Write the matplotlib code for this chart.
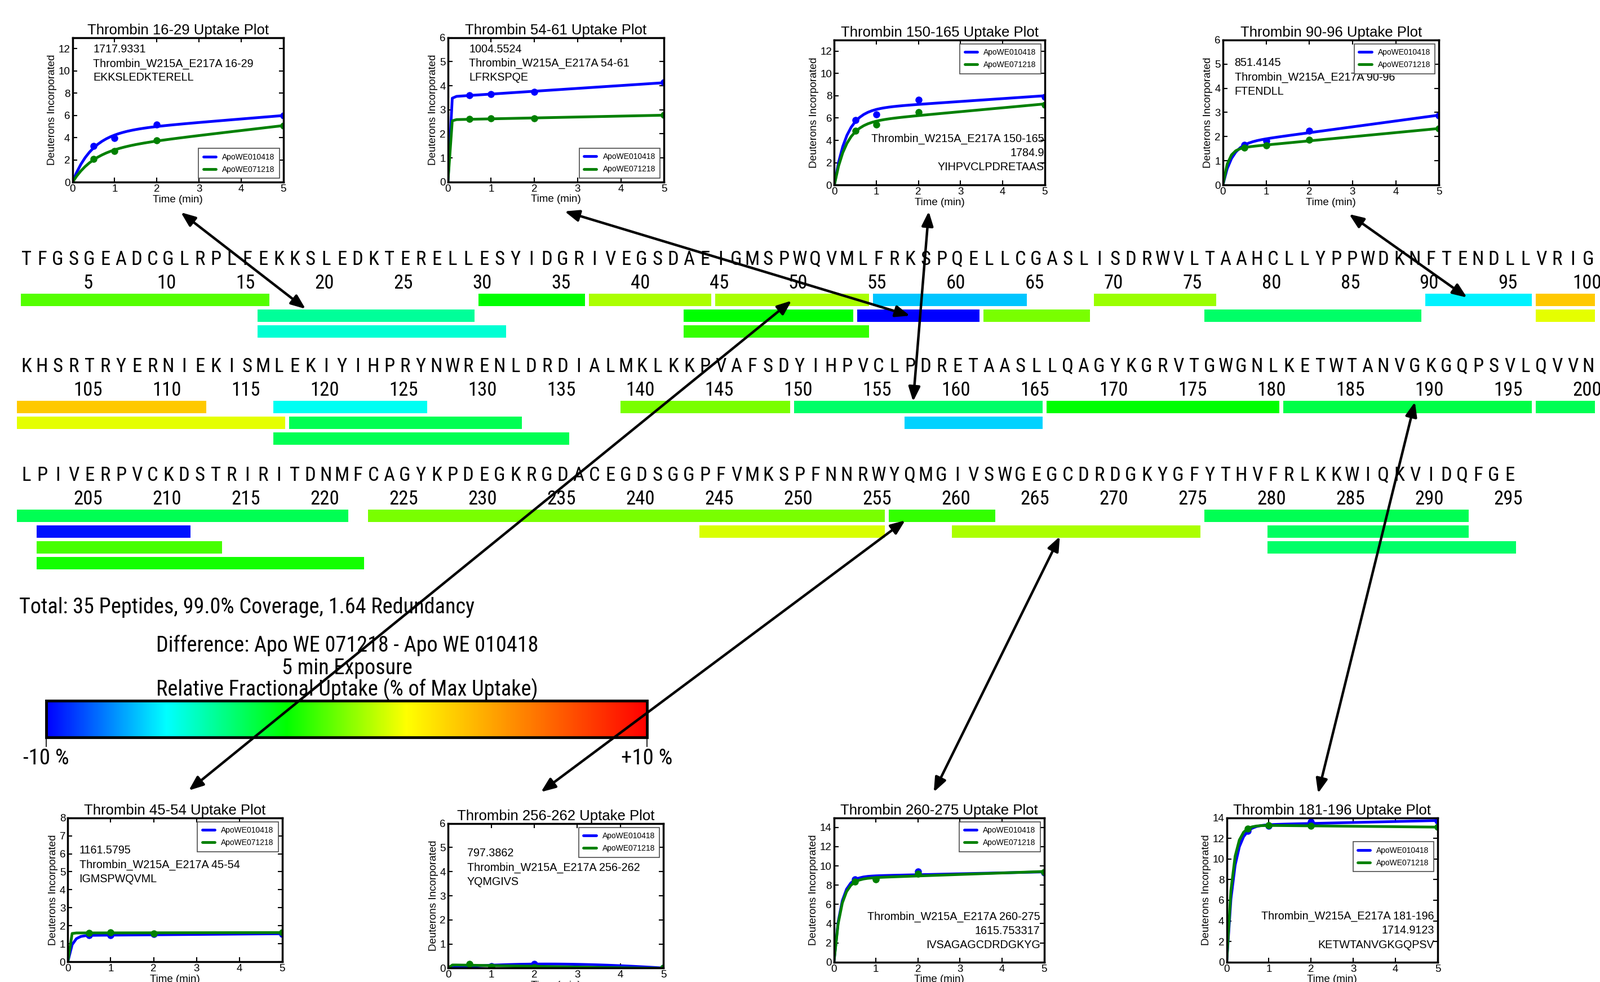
import numpy as np
import matplotlib
matplotlib.use("Agg")
import matplotlib.pyplot as plt
from matplotlib import font_manager
from matplotlib.font_manager import FontProperties
from matplotlib.colors import LinearSegmentedColormap, Normalize
from matplotlib.cm import ScalarMappable
from matplotlib.patches import ConnectionPatch

# ------------------------------------------------------------------ data
seq_row1 = "TFGSGEADCGLRPLFEKKSLEDKTERELLESYIDGRIVEGSDAEIGMSPWQVMLFRKSPQELLCGASLISDRWVLTAAHCLLYPPWDKNFTENDLLVRIG"
seq_row2 = "KHSRTRYERNIEKISMLEKIYIHPRYNWRENLDRDIALMKLKKPVAFSDYIHPVCLPDRETAASLLQAGYKGRVTGWGNLKETWTANVGKGQPSVLQVVN"
seq_row3 = "LPIVERPVCKDSTRIRITDNMFCAGYKPDEGKRGDACEGDSGGPFVMKSPFNNRWYQMGIVSWGEGCDRDGKYGFYTHVFRLKKWIQKVIDQFGE"
row_starts = [1, 101, 201]
row_number_labels = [list(range(5, 101, 5)), list(range(105, 201, 5)), list(range(205, 296, 5))]

pep_start = [1, 30, 37, 45, 55, 69, 90, 97, 16, 43, 54, 62, 76, 97, 16, 43,
             117, 139, 150, 166, 181, 197, 118, 157, 117,
             223, 256, 276, 202, 244, 260, 280, 202, 280, 202]
pep_end = [16, 36, 44, 54, 64, 76, 96, 112, 29, 53, 61, 68, 89, 117, 31, 54,
           126, 149, 165, 180, 196, 221, 132, 165, 135,
           255, 262, 292, 211, 255, 275, 292, 213, 295, 222]
pep_lane = [0, 0, 0, 0, 0, 0, 0, 0, 1, 1, 1, 1, 1, 1, 2, 2,
            0, 0, 0, 0, 0, 0, 1, 1, 2,
            0, 0, 0, 1, 1, 1, 1, 2, 2, 3]
pep_diff = [-0.7, -2.0, 0.7, 0.65, -6.9, 0.4, -6.2, 3.7, -4.4, -2.0, -10.0, -0.1, -3.6, 1.6, -5.3, -1.2,
            -5.8, -0.1, -3.6, -2.0, -3.1, -3.3, -3.3, -6.7, -3.3,
            -0.1, -1.2, -3.3, -9.7, 1.4, 0.7, -3.5, -0.9, -3.6, -1.7]

total_text = "Total: 35 Peptides, 99.0% Coverage, 1.64 Redundancy"
legend_title_lines = ["Difference: Apo WE 071218 - Apo WE 010418", "5 min Exposure",
                      "Relative Fractional Uptake (% of Max Uptake)"]
cbar_ticks = [-10, 10]
cbar_ticklabels = ["-10 %", "+10 %"]

times = [0.5, 1, 2, 5]
series_labels = ["ApoWE010418", "ApoWE071218"]
plot_titles = ["Thrombin 16-29 Uptake Plot", "Thrombin 54-61 Uptake Plot", "Thrombin 150-165 Uptake Plot",
               "Thrombin 90-96 Uptake Plot", "Thrombin 45-54 Uptake Plot", "Thrombin 256-262 Uptake Plot",
               "Thrombin 260-275 Uptake Plot", "Thrombin 181-196 Uptake Plot"]
plot_mass = ["1717.9331", "1004.5524", "1784.9", "851.4145", "1161.5795", "797.3862", "1615.753317", "1714.9123"]
plot_id = ["Thrombin_W215A_E217A 16-29", "Thrombin_W215A_E217A 54-61", "Thrombin_W215A_E217A 150-165",
           "Thrombin_W215A_E217A 90-96", "Thrombin_W215A_E217A 45-54", "Thrombin_W215A_E217A 256-262",
           "Thrombin_W215A_E217A 260-275", "Thrombin_W215A_E217A 181-196"]
plot_seq = ["EKKSLEDKTERELL", "LFRKSPQE", "YIHPVCLPDRETAAS", "FTENDLL", "IGMSPWQVML", "YQMGIVS",
            "IVSAGAGCDRDGKYG", "KETWTANVGKGQPSV"]
uptake_010418 = [[3.25, 3.97, 5.17, 5.97], [3.60, 3.66, 3.75, 4.13], [5.84, 6.31, 7.63, 7.91],
                 [1.67, 1.83, 2.25, 2.87], [1.46, 1.46, 1.52, 1.55], [0.10, 0.08, 0.18, 0.0],
                 [8.58, 8.70, 9.40, 9.30], [12.70, 13.20, 13.60, 13.70]]
uptake_071218 = [[2.10, 2.78, 3.78, 5.08], [2.61, 2.63, 2.64, 2.78], [4.88, 5.39, 6.52, 7.20],
                 [1.55, 1.63, 1.86, 2.33], [1.60, 1.63, 1.57, 1.63], [0.18, 0.06, 0.04, 0.0],
                 [8.34, 8.58, 9.20, 9.36], [12.95, 13.27, 13.20, 13.10]]
plot_ymax = [13, 6, 13, 6, 8, 6, 15, 14]
plot_ystep = [2, 1, 2, 1, 1, 1, 2, 2]

# ------------------------------------------------------------------ layout (pixels)
W, H = 2839, 1742
fig = plt.figure(figsize=(W / 100, H / 100), dpi=100)
fig.patch.set_facecolor("white")


def px_axes(l, t, r, b):
    return fig.add_axes([l / W, 1 - b / H, (r - l) / W, (b - t) / H])


def find_narrow():
    prefs = ["Liberation Sans Narrow", "DejaVu Sans Condensed", "Roboto Condensed",
             "Noto Sans Condensed", "Open Sans Condensed"]
    fl = font_manager.fontManager.ttflist
    okw = (400, "normal", "regular", "book", "Regular")
    for p in prefs:
        for f in fl:
            if f.name == p and f.style == "normal" and f.weight in okw:
                return FontProperties(fname=f.fname)
    for f in fl:
        fn = f.fname
        if (("Condensed" in fn or "Narrow" in fn or str(f.stretch) == "condensed")
                and f.style == "normal" and f.weight in okw
                and not any(s in fn for s in ("Mono", "Bold", "Italic", "Oblique", "Light", "Semi", "Extra", "Medium", "Black", "Thin"))):
            return FontProperties(fname=fn)
    return FontProperties(family="DejaVu Sans")


NARROW = find_narrow()


def nf(size):
    fp = NARROW.copy()
    fp.set_size(size)
    return fp


plt.rcParams["font.family"] = ["Liberation Sans", "DejaVu Sans"]

cmap = LinearSegmentedColormap.from_list(
    "hdx", [(0.0, "#0000ff"), (0.2, "#00ffff"), (0.4, "#00ff00"), (0.6, "#ffff00"), (1.0, "#ff0000")], N=512)
norm = Normalize(-10, 10)

# ---------------------------------------------------------------- sequence map
row_y0 = [460, 650, 843]
PITCH = 28.0
RES0_X = 43.8
LANE_TOP = -3.286
LANE_BOT = 3.5
row_axes = []
seqs = [seq_row1, seq_row2, seq_row3]
for ri, y0 in enumerate(row_y0):
    ax = px_axes(RES0_X - 0.5 * PITCH, y0 + 72 + LANE_TOP * PITCH,
                 RES0_X + 99.5 * PITCH, y0 + 72 + LANE_BOT * PITCH)
    rs = row_starts[ri]
    ax.set_xlim(rs - 0.5, rs + 99.5)
    ax.set_ylim(LANE_BOT, LANE_TOP)
    ax.axis("off")
    for i, ch in enumerate(seqs[ri]):
        ax.text(rs + i + 0.1, -2.571, ch, ha="center", va="center", fontproperties=nf(25))
    for n in row_number_labels[ri]:
        ax.text(n, -1.071, str(n), ha="center", va="center", fontproperties=nf(25))
    for s, e, ln, d in zip(pep_start, pep_end, pep_lane, pep_diff):
        if e >= rs - 1 and s <= rs + 99:
            ax.barh(ln, e - s + 0.75, left=s - 0.25, height=22 / 28, color=cmap(norm(d)),
                    edgecolor="none", align="center")
    row_axes.append(ax)

fig.text(34 / W, 1 - 1078 / H, total_text, ha="left", va="center", fontproperties=nf(27.5))
for txt, yy in zip(legend_title_lines, [1145, 1185, 1223]):
    fig.text(616 / W, 1 - yy / H, txt, ha="center", va="center", fontproperties=nf(27.5))

cax = px_axes(82, 1243, 1148, 1308)
cb = fig.colorbar(ScalarMappable(norm=norm, cmap=cmap), cax=cax, orientation="horizontal", ticks=cbar_ticks)
cb.outline.set_linewidth(3.5)
cax.set_xticklabels(cbar_ticklabels)
for lab in cax.get_xticklabels():
    lab.set_fontproperties(nf(28))
cax.tick_params(axis="x", length=12, width=1.2, pad=2)

# ---------------------------------------------------------------- uptake plots
plot_boxes = [(128.6, 66.7, 502.7, 323.3), (794.8, 66.7, 1178.2, 322.7),
              (1480.4, 70.7, 1853.6, 328.3), (2169.8, 70.7, 2553.4, 328.3),
              (120.4, 1450.7, 500.8, 1706.0), (795.1, 1460.7, 1177.3, 1717.3),
              (1479.7, 1450.7, 1852.6, 1706.7), (2176.6, 1450.7, 2551.0, 1706.7)]
legend_loc = [("lower right", None), ("lower right", None), ("upper right", None), ("upper right", None),
              ("upper right", None), ("upper right", None), ("upper right", None), ("upper right", (1.0, 0.86))]
text_layout = [("left", 0.098, [0.92, 0.82, 0.725]), ("left", 0.098, [0.92, 0.82, 0.725]),
               ("right", 0.998, [0.319, 0.219, 0.122]), ("left", 0.054, [0.841, 0.742, 0.644]),
               ("left", 0.053, [0.774, 0.673, 0.575]), ("left", 0.088, [0.795, 0.694, 0.597]),
               ("right", 0.981, [0.315, 0.215, 0.117]), ("right", 0.983, [0.319, 0.219, 0.117])]


def fit_uptake(t, y):
    t = np.asarray(t, float)
    y = np.asarray(y, float)
    best = None
    for k in np.geomspace(0.2, 40, 400):
        X = np.column_stack([1 - np.exp(-k * t), t])
        coef, *_ = np.linalg.lstsq(X, y, rcond=None)
        sse = float(np.sum((X @ coef - y) ** 2))
        if best is None or sse < best[0]:
            best = (sse, k, coef)
    _, k, (a, m) = best
    tt = np.linspace(0, 5, 51)
    return tt, a * (1 - np.exp(-k * tt)) + m * tt


BLUE = (0, 0, 1)
GREEN = (0, 0.5, 0)
plot_axes = []
for i in range(8):
    ax = px_axes(*plot_boxes[i])
    handles = []
    for vals, col in ((uptake_010418[i], BLUE), (uptake_071218[i], GREEN)):
        tt, ff = fit_uptake(times, vals)
        ln, = ax.plot(tt, ff, color=col, lw=3.5, solid_capstyle="round")
        ax.plot(times, vals, "o", color=col, ms=8, mec=col)
        handles.append(ln)
    ax.set_xlim(0, 5)
    ax.set_ylim(0, plot_ymax[i])
    ax.set_xticks(range(0, 6))
    ax.set_yticks(np.arange(0, plot_ymax[i] + 0.01, plot_ystep[i]))
    ax.tick_params(direction="in", top=True, right=True, length=6, width=1.5, labelsize=13.5, pad=3)
    for sp in ax.spines.values():
        sp.set_linewidth(2.5)
    ax.set_title(plot_titles[i], fontsize=18.5, pad=4)
    ax.set_ylabel("Deuterons Incorporated", fontsize=13.5, labelpad=2)
    ax.set_xlabel("Time (min)", fontsize=13.5, labelpad=1)
    loc, anchor = legend_loc[i]
    kw = dict(loc=loc, fontsize=10, fancybox=False, edgecolor="0.3", framealpha=1,
              handlelength=1.6, borderpad=0.6, labelspacing=0.6)
    if anchor is not None:
        kw["bbox_to_anchor"] = anchor
    leg = ax.legend(handles, series_labels, **kw)
    leg.get_frame().set_linewidth(1.2)
    mode, tx, tys = text_layout[i]
    if mode == "left":
        lines = [plot_mass[i], plot_id[i], plot_seq[i]]
        ha = "left"
    else:
        lines = [plot_id[i], plot_mass[i], plot_seq[i]]
        ha = "right"
    for s, ty in zip(lines, tys):
        ax.text(tx, ty, s, transform=ax.transAxes, ha=ha, va="center", fontsize=14.2)
    plot_axes.append(ax)

# ---------------------------------------------------------------- arrows
arrows = [(0, 18.8, 0.57, 0, 0.514, -0.208), (0, 57.1, 1.0, 1, 0.54, -0.204),
          (1, 157.3, -0.35, 2, 0.449, -0.181), (0, 92.4, -0.15, 3, 0.584, -0.2),
          (0, 49.6, 0.05, 4, 0.564, 1.19), (2, 256.8, 0.29, 5, 0.431, 1.217),
          (2, 266.6, 1.31, 6, 0.475, 1.178), (1, 189.1, -0.32, 7, 0.433, 1.17)]
for row, res, lane, pi, fx, fy in arrows:
    con = ConnectionPatch(xyA=(res, lane), coordsA=row_axes[row].transData,
                          xyB=(fx, fy), coordsB=plot_axes[pi].transAxes,
                          arrowstyle="<|-|>,head_length=0.7,head_width=0.28", mutation_scale=22,
                          lw=3.2, color="black", shrinkA=0, shrinkB=0, zorder=20, clip_on=False)
    fig.add_artist(con)

fig.savefig("out.png", dpi=100)
